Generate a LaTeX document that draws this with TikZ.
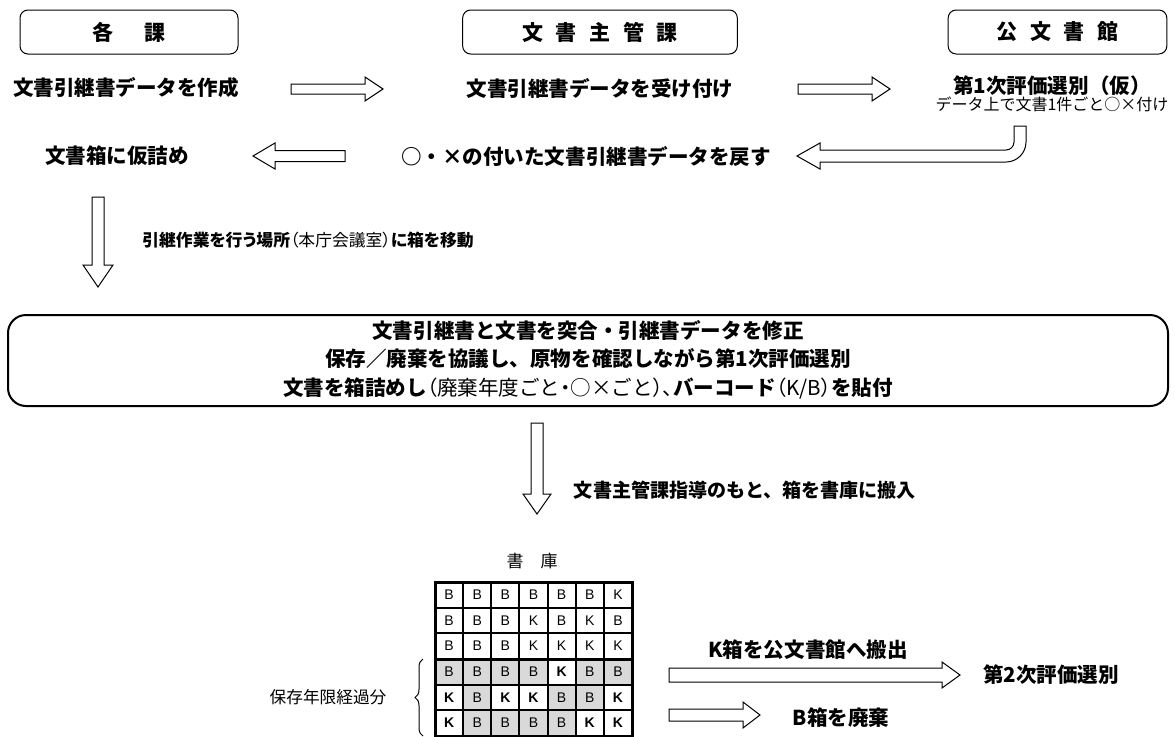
\documentclass[tikz,border=0pt]{standalone}
\usepackage{fontspec}
\setmainfont{Noto Sans CJK JP}
\newfontfamily\lat{Liberation Sans}
\usetikzlibrary{decorations.pathreplacing}
\definecolor{cellgray}{HTML}{D9D9D9}
\newcommand\gap{\hspace{0.6em}}
\newcommand\prop{\addfontfeatures{RawFeature=+palt}}
\tikzset{
  every node/.style={inner sep=0pt, outer sep=0pt},
  titlebox/.style={draw, line width=0.75pt, rounded corners=6pt, minimum height=33pt,
    font=\fontsize{15.75pt}{18pt}\selectfont\bfseries},
  lbl/.style={font=\fontsize{15.4pt}{18pt}\selectfont\bfseries},
  midlbl/.style={font=\fontsize{12.6pt}{15pt}\selectfont\bfseries\prop},
  note/.style={font=\fontsize{12pt}{14pt}\selectfont},
  blockarrow/.style={draw, line width=0.75pt, fill=white, line join=miter},
  cell/.style={minimum width=21.1pt, minimum height=19.25pt, font=\lat\fontsize{10.5pt}{12pt}\selectfont},
  wb/.style={cell, node contents=B},
  wk/.style={cell, node contents=K},
  gb/.style={cell, fill=cellgray, node contents=B},
  bk/.style={cell, font=\lat\fontsize{10.5pt}{12pt}\selectfont\bfseries, node contents=K},
}
% right-pointing block arrow: x1, x2(tip), y, shaft half, head half, head length
\newcommand\rarrow[6]{\draw[blockarrow] (#1,#3-#4) -- (#2-#6,#3-#4) -- (#2-#6,#3-#5) -- (#2,#3) -- (#2-#6,#3+#5) -- (#2-#6,#3+#4) -- (#1,#3+#4) -- cycle;}
% left-pointing block arrow: x1(tip), x2, y, shaft half, head half, head length
\newcommand\larrow[6]{\draw[blockarrow] (#2,#3-#4) -- (#1+#6,#3-#4) -- (#1+#6,#3-#5) -- (#1,#3) -- (#1+#6,#3+#5) -- (#1+#6,#3+#4) -- (#2,#3+#4) -- cycle;}
% down-pointing block arrow: x, y1, y2(tip), shaft half, head half, head length
\newcommand\darrow[6]{\draw[blockarrow] (#1-#4,#2) -- (#1-#4,#3-#6) -- (#1-#5,#3-#6) -- (#1,#3) -- (#1+#5,#3-#6) -- (#1+#4,#3-#6) -- (#1+#4,#2) -- cycle;}
\begin{document}
\begin{tikzpicture}[x=0.75pt, y=-0.75pt]
\useasboundingbox (0,0) rectangle (1175,736);

% title boxes
\node[titlebox, minimum width=163.5pt] (t1) at (129,32) {各\hspace{1.5em}課};
\node[titlebox, minimum width=206pt] (t2) at (600,32) {文\gap 書\gap 主\gap 管\gap 課};
\node[titlebox, minimum width=164pt] (t3) at (1057.5,32) {公\gap 文\gap 書\gap 館};

% row 1
\node[lbl] (s1) at (126,88) {文書引継書データを作成};
\node[lbl] (s2) at (600,88) {文書引継書データを受け付け};
\node[lbl] (s3) at (1052,86) {第1次評価選別（仮）};
\node[note] (s3n) at (1052,104) {データ上で文書1件ごと○×付け};
\rarrow{291}{383}{89}{5}{12}{18}
\rarrow{798}{890}{89}{5}{12}{18}

% row 2
\node[lbl] (r1) at (117,156) {文書箱に仮詰め};
\node[lbl] (r2) at (586,156) {○・×の付いた文書引継書データを戻す};
\larrow{253}{345}{156}{5.5}{13}{22}
\draw[blockarrow] (797,156) -- (820,143) -- (820,150) -- (1006,150)
  .. controls (1010.42,150) and (1014,146.42) .. (1014,142) -- (1014,126) -- (1026,126) -- (1026,142)
  .. controls (1026,153.05) and (1017.05,162) .. (1006,162) -- (820,162) -- (820,169) -- cycle;

% move boxes
\darrow{98}{197}{287}{6}{15}{22}
\node[midlbl] (m1) at (308,240) {引継作業を行う場所{\mdseries（本庁会議室）}に箱を移動};

% work box
\node[draw, line width=1.5pt, rounded corners=13.5pt, minimum width=870pt, minimum height=68.25pt] (work) at (588,360.5) {};
\node[lbl] (w1) at (588,330) {文書引継書と文書を突合・引継書データを修正};
\node[lbl] (w2) at (588,359) {保存／廃棄を協議し、原物を確認しながら第1次評価選別};
\node[lbl] (w3) at (588,388) {文書を箱詰めし{\mdseries{\prop（}廃棄年度ごと{\prop・}○×ごと{\prop）、}}バーコード{\mdseries{\prop（}K/B{\prop）}}を貼付};

% to store
\darrow{537}{423}{514}{6}{14}{20}
\node[font=\fontsize{14.3pt}{17pt}\selectfont\bfseries] (m2) at (745,490) {文書主管課指導のもと、箱を書庫に搬入};
\node[font=\fontsize{12.75pt}{15pt}\selectfont] (store) at (532,561) {書\hspace{1em}庫};

% grid
\foreach \row [count=\r] in {{wb,wb,wb,wb,wb,wb,wk},{wb,wb,wb,wk,wb,wk,wb},{wb,wb,wb,wk,wk,wk,wk},{gb,gb,gb,gb,bk,gb,gb},{bk,gb,bk,bk,gb,gb,bk},{bk,gb,gb,gb,gb,bk,bk}}
  \foreach \c [count=\i] in \row
    \node[\c, name=c\r\i, at={({435+(\i-0.5)*197/7},{582+(\r-0.5)*154/6})}];
\foreach \i in {1,...,6}
  \draw[line width=1.5pt] ({435+\i*197/7},582) -- ({435+\i*197/7},736);
\foreach \r in {1,2,4,5}
  \draw[line width=1.5pt] (435,{582+\r*154/6}) -- (632,{582+\r*154/6});
\draw[line width=2.25pt] (435,{582+3*154/6}) -- (632,{582+3*154/6});
\draw[line width=2.25pt] (435,582) rectangle (632,736);

% brace
\draw[line width=0.75pt, decorate, decoration={brace, amplitude=6pt}] (423,736) -- (423,659);
\node[font=\fontsize{12.5pt}{15pt}\selectfont] (keep) at (328,697) {保存年限経過分};

% output arrows
\node[lbl] (kt) at (808,650) {K箱を公文書館へ搬出};
\rarrow{669}{960}{675}{7}{13}{18}
\node[lbl] (sec) at (1051,675) {第2次評価選別};
\rarrow{669}{760}{715}{6}{13}{17}
\node[lbl] (bt) at (841,718) {B箱を廃棄};
\end{tikzpicture}
\end{document}
